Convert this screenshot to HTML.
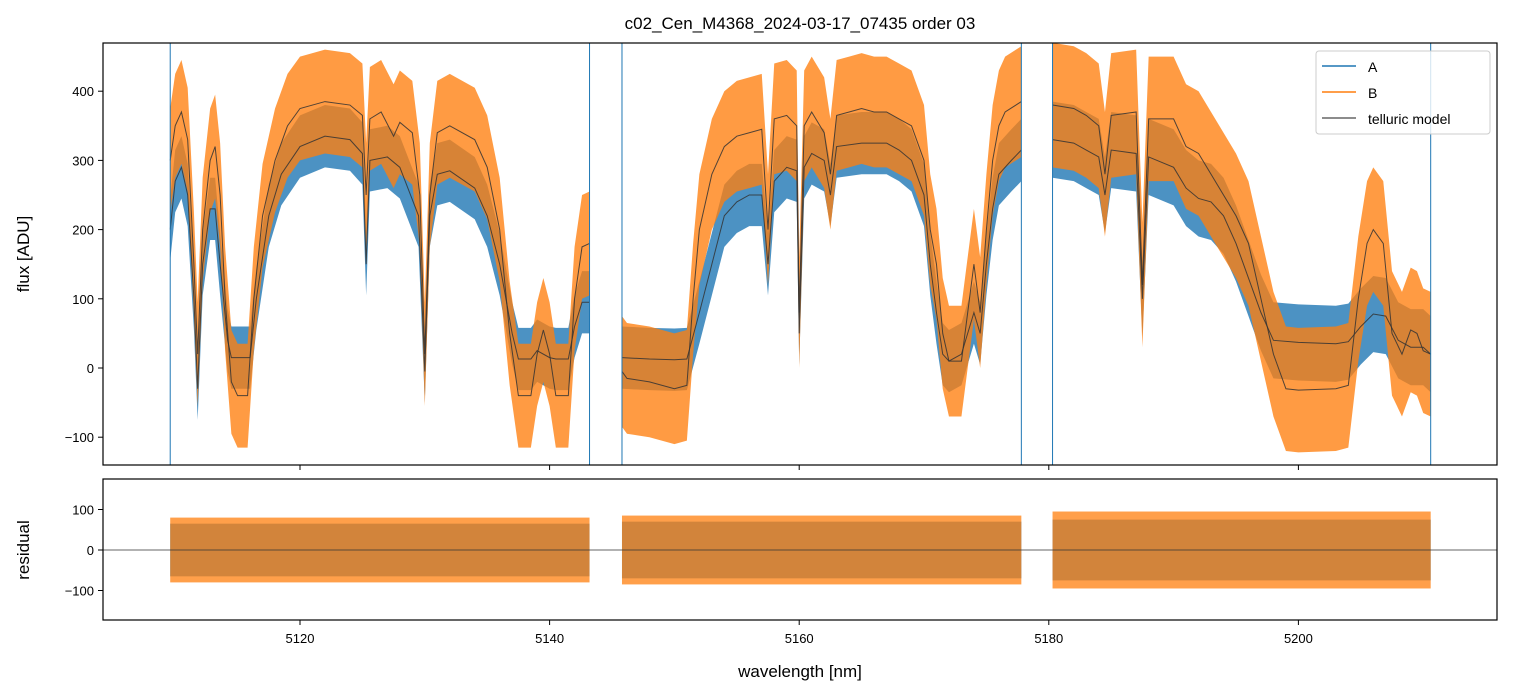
<!DOCTYPE html>
<html><head><meta charset="utf-8"><style>
body{margin:0;background:#fff;}
svg{display:block;font-family:"Liberation Sans","DejaVu Sans",sans-serif;}
</style></head><body>
<svg id="c" width="1513" height="696" xmlns="http://www.w3.org/2000/svg">
<defs>
<clipPath id="cpTop"><rect x="103" y="43" width="1394" height="422"/></clipPath>
<clipPath id="cpBot"><rect x="103" y="479" width="1394" height="141"/></clipPath>
</defs>
<text x="800" y="29" text-anchor="middle" font-size="17">c02_Cen_M4368_2024-03-17_07435  order 03</text>
<g id="top" clip-path="url(#cpTop)"></g>
<g id="bot" clip-path="url(#cpBot)"></g>
<g id="axes"></g>
<g>
<rect x="1316" y="51" width="174" height="83" rx="3" fill="#fff" fill-opacity="0.8" stroke="#ccc"/>
<line x1="1322" y1="66" x2="1356" y2="66" stroke="#1f77b4" stroke-width="1.5"/>
<text x="1368" y="72" font-size="14">A</text>
<line x1="1322" y1="92" x2="1356" y2="92" stroke="#ff7f0e" stroke-width="1.5"/>
<text x="1368" y="98" font-size="14">B</text>
<line x1="1322" y1="118" x2="1356" y2="118" stroke="#666" stroke-width="1.5"/>
<text x="1368" y="124" font-size="14">telluric model</text>
</g>
<text x="800" y="677" text-anchor="middle" font-size="17">wavelength [nm]</text>
<text x="0" y="0" transform="translate(29,254) rotate(-90)" text-anchor="middle" font-size="17">flux [ADU]</text>
<text x="0" y="0" transform="translate(29,550) rotate(-90)" text-anchor="middle" font-size="17">residual</text>
</svg>
<script>
const xTicks=[5120,5140,5160,5180,5200];
const yTicksTop=[400,300,200,100,0,-100];
const yTicksBot=[100,0,-100];
const segments=[[5109.6,5143.2],[5145.8,5177.8],[5180.3,5210.6]];
const bandA=[45,45,55];
const bandB=[75,80,90];
const resA=[65,70,75];
const resB=[80,85,95];
const modelB=[
[[5109.6,300],[5110,350],[5110.5,370],[5111,330],[5111.5,150],[5111.8,20],[5112.2,200],[5112.8,300],[5113.2,320],[5113.6,250],[5114,100],[5114.5,-20],[5115,-40],[5115.8,-40],[5116.3,100],[5117,220],[5118,300],[5119,350],[5120,375],[5122,385],[5124,380],[5125,365],[5125.3,250],[5125.6,360],[5126.5,370],[5127.5,335],[5128,355],[5129,340],[5129.6,250],[5130,20],[5130.4,250],[5131,340],[5132,350],[5134,330],[5135,290],[5136,200],[5136.8,50],[5137.5,-40],[5138.5,-40],[5139,20],[5139.5,55],[5140,20],[5140.5,-40],[5141.5,-40],[5142,100],[5142.6,175],[5143.2,180]],
[[5145.8,-5],[5146.2,-15],[5148,-20],[5150,-30],[5151,-25],[5151.5,100],[5152,200],[5153,280],[5154,320],[5155,335],[5156,340],[5157,345],[5157.5,200],[5158,360],[5159,365],[5159.8,350],[5160,80],[5160.4,350],[5161,370],[5162,340],[5162.5,280],[5163,365],[5164,370],[5165,375],[5166,370],[5167,370],[5168,360],[5169,350],[5170,300],[5170.5,200],[5171,150],[5171.5,50],[5172,10],[5173,10],[5173.5,80],[5174,150],[5174.5,80],[5175,200],[5175.5,300],[5176,350],[5176.5,370],[5177.8,385]],
[[5180.3,380],[5182,375],[5183,365],[5184,350],[5184.5,280],[5185,365],[5187,370],[5187.5,120],[5188,360],[5190,360],[5191,320],[5192,310],[5193,280],[5194,250],[5195,220],[5196,180],[5197,100],[5198,20],[5199,-30],[5200,-32],[5203,-30],[5204,-25],[5204.8,100],[5205.5,180],[5206,200],[5206.8,180],[5207.5,50],[5208.3,20],[5209,55],[5209.5,50],[5210,25],[5210.6,20]]];
const modelA=[
[[5109.6,200],[5110,270],[5110.5,290],[5111,250],[5111.5,100],[5111.8,-30],[5112.2,150],[5112.8,230],[5113.2,230],[5113.6,150],[5114.2,40],[5114.5,15],[5116,15],[5116.5,100],[5117.5,220],[5118.5,280],[5120,320],[5122,335],[5124,330],[5125,310],[5125.3,150],[5125.6,300],[5127,305],[5128,290],[5129.5,220],[5130,-5],[5130.4,220],[5131,280],[5132,285],[5134,260],[5135,220],[5136,150],[5137,50],[5137.5,13],[5138.5,13],[5139,25],[5140,15],[5140.5,13],[5141.5,13],[5142,60],[5142.6,95],[5143.2,95]],
[[5145.8,15],[5148,13],[5150,12],[5151,13],[5152,80],[5153,150],[5154,220],[5155,240],[5156,250],[5157,250],[5157.5,150],[5158,270],[5159,290],[5159.8,285],[5160,50],[5160.4,290],[5161,310],[5162,300],[5162.5,250],[5163,320],[5165,325],[5167,325],[5168,315],[5169,300],[5170,250],[5170.5,150],[5171,80],[5171.5,20],[5172,10],[5173,20],[5173.5,50],[5174,80],[5174.5,50],[5175,150],[5175.5,230],[5176,280],[5177,300],[5177.8,315]],
[[5180.3,330],[5182,325],[5183,315],[5184,305],[5184.5,250],[5185,315],[5187,310],[5187.5,100],[5188,305],[5190,290],[5191,260],[5192,245],[5193,240],[5194,220],[5195,180],[5196,130],[5197,80],[5198,40],[5200,37],[5203,35],[5204,38],[5205,60],[5206,78],[5207,75],[5208,40],[5209,30],[5210,30],[5210.6,20]]];

const NS='http://www.w3.org/2000/svg';
const X=v=>300+(v-5120)*12.48;
const YT=v=>368-v*0.692;
const YB=v=>550-v*0.405;
function mk(tag,attrs,parent){const e=document.createElementNS(NS,tag);for(const k in attrs)e.setAttribute(k,attrs[k]);parent.appendChild(e);return e;}
const gTop=document.getElementById('top'),gBot=document.getElementById('bot'),gAxes=document.getElementById('axes');

function band(pts,w,yf){
  const up=pts.map(p=>X(p[0])+','+yf(p[1]+w)).join(' ');
  const dn=pts.slice().reverse().map(p=>X(p[0])+','+yf(p[1]-w)).join(' ');
  return up+' '+dn;
}
for(let i=0;i<segments.length;i++){
  let e=mk('polygon',{points:band(modelA[i],bandA[i],YT),fill:'#1f77b4','fill-opacity':0.8},gTop);
  
  
}
for(let i=0;i<segments.length;i++){
  let e=mk('polygon',{points:band(modelB[i],bandB[i],YT),fill:'#ff7f0e','fill-opacity':0.78},gTop);
  
  
}
for(let i=0;i<segments.length;i++){
  for(const m of [modelA[i],modelB[i]]){
    let e=mk('polyline',{points:m.map(p=>X(p[0])+','+YT(p[1])).join(' '),fill:'none',stroke:'#333','stroke-width':1,'stroke-opacity':0.85},gTop);
    
    
  }
  for(const x of segments[i]){
    let e=mk('line',{x1:X(x),x2:X(x),y1:43,y2:465,stroke:'#1f77b4','stroke-width':1},gTop);
    
    
  }
  let s=segments[i];
  let r=mk('rect',{x:X(s[0]),width:X(s[1])-X(s[0]),y:YB(resA[i]),height:YB(-resA[i])-YB(resA[i]),fill:'#1f77b4','fill-opacity':0.8},gBot);
  
  
  r=mk('rect',{x:X(s[0]),width:X(s[1])-X(s[0]),y:YB(resB[i]),height:YB(-resB[i])-YB(resB[i]),fill:'#ff7f0e','fill-opacity':0.75},gBot);
  
  
}
let z=mk('line',{x1:103,x2:1497,y1:YB(0),y2:YB(0),stroke:'#333','stroke-width':0.8},gBot);



let f=mk('rect',{x:103,y:43,width:1394,height:422,fill:'none',stroke:'#000','stroke-width':1.2},gAxes);


f=mk('rect',{x:103,y:479,width:1394,height:141,fill:'none',stroke:'#000','stroke-width':1.2},gAxes);


for(const t of xTicks){
  mk('line',{x1:X(t),x2:X(t),y1:465,y2:470,stroke:'#000'},gAxes);
  mk('line',{x1:X(t),x2:X(t),y1:620,y2:625,stroke:'#000'},gAxes);
  let e=mk('text',{x:X(t),y:643,'text-anchor':'middle','font-size':13},gAxes);
  e.textContent=t;
  
  
}
for(const t of yTicksTop){
  mk('line',{x1:98,x2:103,y1:YT(t),y2:YT(t),stroke:'#000'},gAxes);
  let e=mk('text',{x:94,y:YT(t)+5,'text-anchor':'end','font-size':13},gAxes);
  e.textContent=t<0?'\u2212'+(-t):t;
  
  
}
for(const t of yTicksBot){
  mk('line',{x1:98,x2:103,y1:YB(t),y2:YB(t),stroke:'#000'},gAxes);
  let e=mk('text',{x:94,y:YB(t)+5,'text-anchor':'end','font-size':13},gAxes);
  e.textContent=t<0?'\u2212'+(-t):t;
  
  
}
</script>
</body></html>
